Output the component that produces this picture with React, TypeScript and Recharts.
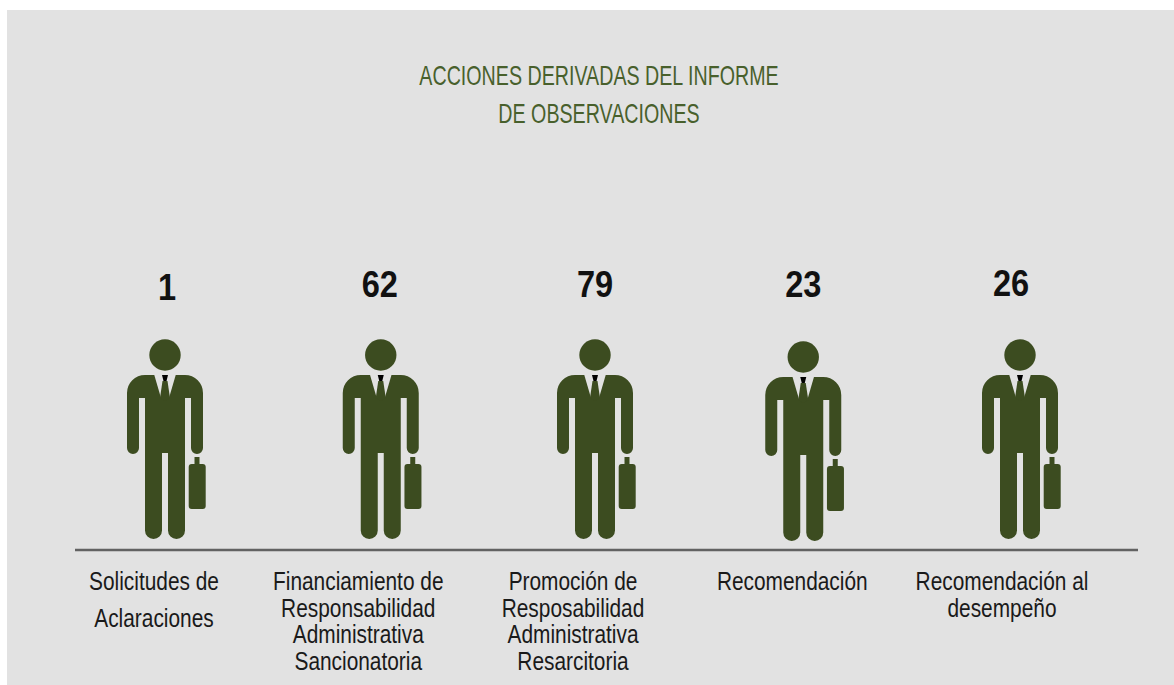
import { ComposedChart, Scatter, XAxis, YAxis, Customized } from 'recharts';

const categories = [
  'Solicitudes de Aclaraciones',
  'Financiamiento de Responsabilidad Administrativa Sancionatoria',
  'Promoción de Resposabilidad Administrativa Resarcitoria',
  'Recomendación',
  'Recomendación al desempeño',
];
const values = [1, 62, 79, 23, 26];
const categoryLines = [
  ['Solicitudes de', 'Aclaraciones'],
  ['Financiamiento de', 'Responsabilidad', 'Administrativa', 'Sancionatoria'],
  ['Promoción de', 'Resposabilidad', 'Administrativa', 'Resarcitoria'],
  ['Recomendación'],
  ['Recomendación al', 'desempeño'],
];
const titleLines = ['ACCIONES DERIVADAS DEL INFORME', 'DE OBSERVACIONES'];

const data = categories.map((name, i) => ({ name, value: values[i], base: 0 }));

// the source is hand placed, so nudge each column a little off the even spacing
const figureDx = [0, 2, 2.5, -3, 0];
const figureDy = [0, 0, 0, 2, 0];
const valueDx = [2, 1, 2.5, -3, -9];
const valueDy = [3, 0, 0, 0, -1];
const labelDx = [-11, -20.5, -19.5, -14, -18];
const labelGap = [37, 26.7, 26.7, 26.7, 26.7];

// no condensed face is installed, so squeeze Liberation Sans horizontally
const FONT = '"Liberation Sans", sans-serif';
const GREEN = '#3c4c20';

const body =
  'M-38,-146 A18,18 0 0 1 -20,-164 L20,-164 A18,18 0 0 1 38,-146 L38,-91 A6,6 0 0 1 26,-91 L26,-141 L20,-141 ' +
  'L20,-8.5 A8.5,8.5 0 0 1 3,-8.5 L3,-86 L-3,-86 L-3,-8.5 A8.5,8.5 0 0 1 -20,-8.5 L-20,-141 L-26,-141 ' +
  'L-26,-91 A6,6 0 0 1 -38,-91 Z';

const Person = (props: any) => {
  const { cx, cy, index } = props;
  const i = index ?? categories.indexOf(props.payload?.name);
  const x = cx + figureDx[i];
  const y = cy - 11 + figureDy[i];
  return (
    <g>
      <g transform={`translate(${x},${y})`}>
        <circle cx={0} cy={-184} r={15.7} fill={GREEN} />
        <path d={body} fill={GREEN} />
        <path d="M-11,-165 L11,-165 L4,-141 L-4,-141 Z" fill="#e2e2e2" />
        <path d="M-2.5,-158 L2.5,-158 L5,-141 L0,-138 L-5,-141 Z" fill={GREEN} />
        <path d="M-3,-164 L3,-164 L1.5,-158 L-1.5,-158 Z" fill="#000000" />
        <rect x={29.5} y={-82} width={5} height={8} fill={GREEN} />
        <rect x={23.7} y={-75} width={17} height={45} rx={3} fill={GREEN} />
      </g>
      <g transform={`translate(${cx + valueDx[i]},0) scale(0.88,1)`}>
        <text
          x={0}
          y={cy - 253 + valueDy[i]}
          textAnchor="middle"
          fontFamily={FONT}
          fontWeight={700}
          fontSize={37}
          fill="#111111"
        >
          {props.payload.value}
        </text>
      </g>
    </g>
  );
};

const CategoryTick = (props: any) => {
  const { x, index } = props;
  return (
    <g transform={`translate(${x + labelDx[index]},0) scale(0.835,1)`}>
      <text textAnchor="middle" fontFamily={FONT} fontSize={25} fill="#1a1a1a">
        {categoryLines[index].map((line, j) => (
          <tspan key={line} x={0} y={590 + j * labelGap[index]}>
            {line}
          </tspan>
        ))}
      </text>
    </g>
  );
};

const Backdrop = () => <rect x={7} y={10} width={1167} height={675} fill="#e2e2e2" />;

const Title = () => (
  <g transform="translate(599,0) scale(0.69,1)">
    <text textAnchor="middle" fontFamily={FONT} fontSize={28.5} fill="#48602c">
      {titleLines.map((line, j) => (
        <tspan key={line} x={0} y={85 + j * 38}>
          {line}
        </tspan>
      ))}
    </text>
  </g>
);

export default function App() {
  return (
    <div style={{ position: 'absolute', left: 0, top: 0, width: 1174, height: 685, background: '#ffffff' }}>
      <ComposedChart
        width={1174}
        height={685}
        data={data}
        margin={{ top: 0, right: 36, bottom: 0, left: 75 }}
      >
        <Customized component={Backdrop} />
        <Customized component={Title} />
        <XAxis
          dataKey="name"
          scale="point"
          padding={{ left: 90, right: 118 }}
          interval={0}
          height={135}
          tickLine={false}
          axisLine={{ stroke: '#626262', strokeWidth: 2.5 }}
          tick={<CategoryTick />}
        />
        <YAxis hide domain={[0, 1]} />
        <Scatter dataKey="base" shape={<Person />} isAnimationActive={false} />
      </ComposedChart>
    </div>
  );
}
